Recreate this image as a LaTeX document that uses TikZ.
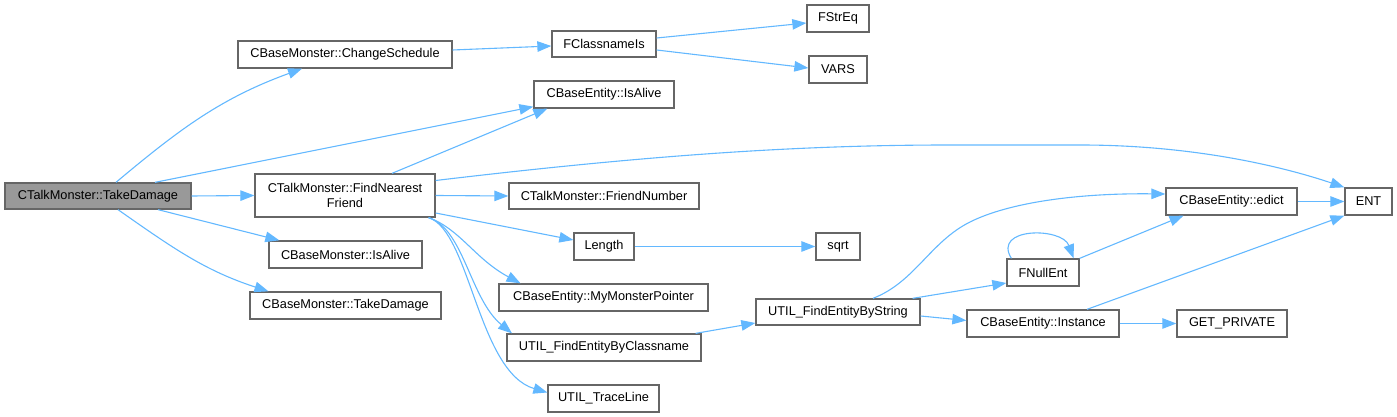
\documentclass[tikz,border=0pt]{standalone}
\usepackage{fontspec}
\setmainfont{Liberation Sans}
\usetikzlibrary{arrows.meta,calc}
\definecolor{edgeblue}{HTML}{63B8FF}
\definecolor{boxgray}{HTML}{666666}
\definecolor{rootfill}{HTML}{999999}
\begin{document}
\begin{tikzpicture}[x=1pt,y=1pt,
 fn/.style={draw=boxgray, line width=1.3pt, fill=white, rectangle, inner sep=0pt, font=\fontsize{12.75}{15}\selectfont, align=center},
 rootfn/.style={fn, fill=rootfill},
 call/.style={draw=edgeblue, line width=1.1pt, -{Triangle[length=14pt,width=10.5pt]}}]
\useasboundingbox (0,0) rectangle (1397,417);
% nodes
\node[rootfn, minimum width=186, minimum height=26] (root) at (98,221) {CTalkMonster::TakeDamage};
\node[fn, minimum width=214, minimum height=27] (cs) at (345,362.5) {CBaseMonster::ChangeSchedule};
\node[fn, minimum width=180, minimum height=43] (fnf) at (345,221.5) {CTalkMonster::FindNearest\\Friend};
\node[fn, minimum width=153, minimum height=27] (bmalive) at (345.5,162.5) {CBaseMonster::IsAlive};
\node[fn, minimum width=191, minimum height=27] (bmtd) at (345.5,111.5) {CBaseMonster::TakeDamage};
\node[fn, minimum width=104, minimum height=26] (fcn) at (604,373) {FClassnameIs};
\node[fn, minimum width=62, minimum height=27] (fstreq) at (838,398.5) {FStrEq};
\node[fn, minimum width=58, minimum height=27] (vars) at (838,347.5) {VARS};
\node[fn, minimum width=140, minimum height=27] (bealive) at (604,322.5) {CBaseEntity::IsAlive};
\node[fn, minimum width=190, minimum height=26] (fnum) at (604,221) {CTalkMonster::FriendNumber};
\node[fn, minimum width=60, minimum height=27] (length) at (604,170.5) {Length};
\node[fn, minimum width=44, minimum height=27] (sqrt) at (838,170.5) {sqrt};
\node[fn, minimum width=209, minimum height=27] (mmp) at (603.5,119.5) {CBaseEntity::MyMonsterPointer};
\node[fn, minimum width=164, minimum height=26] (ufes) at (838,105) {UTIL\_FindEntityByString};
\node[fn, minimum width=194, minimum height=27] (ufec) at (604,69.5) {UTIL\_FindEntityByClassname};
\node[fn, minimum width=111, minimum height=27] (utl) at (603.5,18.5) {UTIL\_TraceLine};
\node[fn, minimum width=131, minimum height=27] (edict) at (1231.5,215.5) {CBaseEntity::edict};
\node[fn, minimum width=47, minimum height=27] (ent) at (1368.5,215.5) {ENT};
\node[fn, minimum width=72, minimum height=27] (fnull) at (1043,144.5) {FNullEnt};
\node[fn, minimum width=152, minimum height=27] (inst) at (1043,93.5) {CBaseEntity::Instance};
\node[fn, minimum width=110, minimum height=27] (getp) at (1232,93.5) {GET\_PRIVATE};
% edges from root
\draw[call] ($(root.north)+(18,0)$) to[out=40,in=200] ($(cs.south)+(-43,0)$);
\draw[call] ($(root.north)+(57,0)$) -- ($(bealive.south west)+(0,2)$);
\draw[call] (root.east) -- (fnf.west);
\draw[call] ($(root.south)+(60,0)$) -- ($(bmalive.north west)+(11,0)$);
\draw[call] ($(root.south)+(20,0)$) to[out=-35,in=162] ($(bmtd.north)+(-77,0)$);
% ChangeSchedule / FClassnameIs
\draw[call] ($(cs.east)+(0,4.5)$) -- ($(fcn.west)+(0,-2)$);
\draw[call] ($(fcn.east)+(0,6)$) -- ($(fstreq.west)+(0,-4.5)$);
\draw[call] ($(fcn.east)+(0,-6)$) -- ($(vars.west)+(0,1.5)$);
% FindNearestFriend
\draw[call] ($(fnf.north)+(47,0)$) -- ($(bealive.south west)+(14,0)$);
\draw[call] ($(fnf.east)+(0,15)$) .. controls (650,262) and (800,272) .. (950,272) -- (1080,272) .. controls (1200,272) and (1290,248) .. (ent.north west);
\draw[call] (fnf.east) -- (fnum.west);
\draw[call] ($(fnf.east)+(0,-17.5)$) -- ($(length.west)+(0,6.5)$);
\draw[call] ($(fnf.south east)+(-7,0)$) .. controls (460,188) and (475,158) .. ($(mmp.north)+(-83,0)$);
\draw[call] ($(fnf.south east)+(-7,0)$) .. controls (464,188) and (470,118) .. ($(ufec.north)+(-92,0)$);
\draw[call] ($(fnf.south east)+(-7,0)$) .. controls (470,186) and (478,45) .. ($(utl.west)+(0,6)$);
% Length
\draw[call] (length.east) -- (sqrt.west);
% UTIL chain
\draw[call] ($(ufec.north east)+(-6,0)$) -- ($(ufes.west)+(0,-11)$);
\draw[call] ($(ufes.north)+(35,0)$) .. controls (915,135) and (930,175) .. (970,195) .. controls (1010,215) and (1080,224) .. ($(edict.west)+(0,7.5)$);
\draw[call] ($(ufes.north east)+(-8,0)$) -- ($(fnull.west)+(0,-10.5)$);
\draw[call] ($(ufes.east)+(0,-4)$) -- ($(inst.west)+(0,3)$);
% FNullEnt
\draw[call] ($(fnull.north west)+(5,0)$) .. controls (992,190) and (1062,190) .. ($(fnull.north east)+(-6,0)$);
\draw[call] (fnull.north east) -- ($(edict.south)+(-48,0)$);
% edict / Instance
\draw[call] (edict.east) -- (ent.west);
\draw[call] ($(inst.north)+(44,0)$) -- (ent.south west);
\draw[call] (inst.east) -- (getp.west);
\end{tikzpicture}
\end{document}
